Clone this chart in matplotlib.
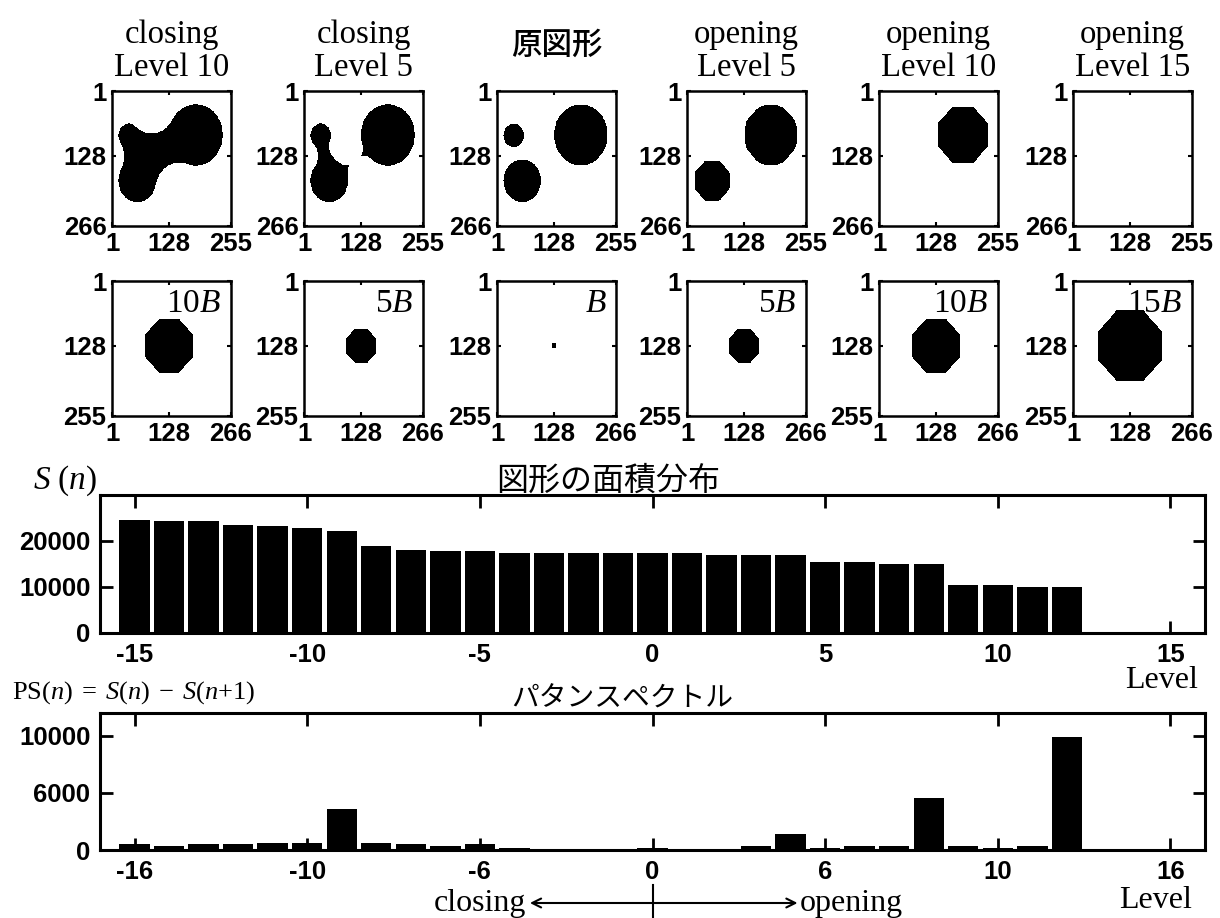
import numpy as np
import matplotlib
matplotlib.use('Agg')
import matplotlib.pyplot as plt
from matplotlib.transforms import blended_transform_factory

plt.rcParams['font.family'] = ['Liberation Sans', 'Noto Sans CJK JP']
plt.rcParams['mathtext.fontset'] = 'custom'
plt.rcParams['mathtext.rm'] = 'Liberation Serif'
plt.rcParams['mathtext.it'] = 'Liberation Serif:italic'

# --- binary test figure: three disks on a 266 x 266 grid ---
N = 266
disk_x = [38, 57, 188]
disk_y = [88, 177, 87]
disk_r = [23, 42, 60]

# size (pixels) of the structuring element nB
se_radius = {1: 5, 5: 33, 10: 53, 15: 70}

top_ops = ['closing', 'closing', None, 'opening', 'opening', 'opening']
top_levels = [10, 5, 0, 5, 10, 15]
top_titles = ['closing\nLevel 10', 'closing\nLevel 5', '原図形',
              'opening\nLevel 5', 'opening\nLevel 10', 'opening\nLevel 15']
se_levels = [10, 5, 1, 5, 10, 15]
se_labels = ['10$B$', '5$B$', '$B$', '5$B$', '10$B$', '15$B$']

img_ticks = [1, 128, 266]
top_xlabels = ['1', '128', '255']
top_ylabels = ['1', '128', '266']
se_xlabels = ['1', '128', '266']
se_ylabels = ['1', '128', '255']

# --- area distribution S(n) and pattern spectrum PS(n) ---
levels = np.arange(-15, 16)
area = [24550, 24320, 24320, 23440, 23220, 22780, 22120, 18830, 17950, 17730,
        17730, 17290, 17290, 17290, 17290, 17290, 17290, 16850, 16850, 16850,
        15530, 15530, 15090, 15090, 10480, 10480, 10040, 10040, 0, 0, 0]
spectrum = [550, 380, 550, 550, 640, 640, 3570, 640, 550, 380,
            550, 200, 0, 0, 0, 150, 80, 80, 350, 1390,
            150, 350, 350, 4580, 350, 150, 350, 9910, 0, 0, 0]

level_ticks = [-15, -10, -5, 0, 5, 10, 15]
area_xlabels = ['-15', '-10', '-5', '0', '5', '10', '15']
ps_xlabels = ['-16', '-10', '-6', '0', '6', '10', '16']
area_yticks = [0, 10000, 20000]
area_ylabels = ['0', '10000', '20000']
ps_yticks = [0, 5000, 10000]
ps_ylabels = ['0', '6000', '10000']

W, H = 1220, 918
fig = plt.figure(figsize=(W / 100, H / 100), dpi=100)


def px_box(left, top, w, h):
    return [left / W, 1 - (top + h) / H, w / W, h / H]


PAD = 130
yy, xx = np.mgrid[1 - PAD:N + 1 + PAD, 1 - PAD:N + 1 + PAD]


def grow(mask, r):
    # octagon of inradius r = square (+) diamond
    a = int(round(r * (np.sqrt(2) - 1)))
    b = int(round(r * (2 - np.sqrt(2))))
    out = mask.copy()
    for axis in (0, 1):
        base = out.copy()
        for k in range(1, a + 1):
            out |= np.roll(base, k, axis) | np.roll(base, -k, axis)
    for _ in range(b):
        out = (out | np.roll(out, 1, 0) | np.roll(out, -1, 0)
               | np.roll(out, 1, 1) | np.roll(out, -1, 1))
    return out


def shrink(mask, r):
    return ~grow(~mask, r)


def crop(mask):
    return mask[PAD:PAD + N, PAD:PAD + N].astype(float)


def disks(extra=0):
    m = np.zeros(xx.shape, dtype=bool)
    for cx, cy, r in zip(disk_x, disk_y, disk_r):
        m |= (xx - cx) ** 2 + (yy - cy) ** 2 <= (r + extra) ** 2
    return m


def closing(R):
    # round element: grow every disk by R, then keep the pixels lying
    # at least R away from the edge of the grown shape
    grown = disks(R)
    inner = (grown & np.roll(grown, 1, 0) & np.roll(grown, -1, 0)
             & np.roll(grown, 1, 1) & np.roll(grown, -1, 1))
    edge = grown & ~inner
    ex = xx[edge].astype(np.float32)
    ey = yy[edge].astype(np.float32)
    gy, gx = np.mgrid[1:N + 1, 1:N + 1]
    px = gx.ravel().astype(np.float32)
    py = gy.ravel().astype(np.float32)
    d2 = np.empty(px.size, dtype=np.float32)
    step = 3000
    for s in range(0, px.size, step):
        dx = px[s:s + step, None] - ex[None, :]
        dy = py[s:s + step, None] - ey[None, :]
        d2[s:s + step] = (dx * dx + dy * dy).min(axis=1)
    keep = (crop(grown) > 0) & (d2.reshape(N, N) >= (R - 1) ** 2)
    return keep.astype(float)


original = disks()

top_imgs = []
for op, lv in zip(top_ops, top_levels):
    if op is None:
        top_imgs.append(crop(original))
    elif op == 'closing':
        top_imgs.append(closing(se_radius[lv]))
    else:
        r = se_radius[lv]
        top_imgs.append(crop(grow(shrink(original, r), r)))

centre = (xx == 128) & (yy == 128)
se_imgs = [crop(grow(centre, se_radius[lv])) for lv in se_levels]

col_left = [112, 304, 497, 687, 879, 1073]
IMG_W, IMG_H = 119, 135


def image_axes(left, top, img, xlabels, ylabels):
    ax = fig.add_axes(px_box(left, top, IMG_W, IMG_H))
    ax.imshow(img, cmap='gray_r', vmin=0, vmax=1, interpolation='nearest',
              aspect='auto', extent=(0.5, N + 0.5, N + 0.5, 0.5))
    ax.set_xticks(img_ticks)
    ax.set_xticklabels(xlabels, fontweight='bold', fontsize=18.5)
    ax.set_yticks(img_ticks)
    ax.set_yticklabels(ylabels, fontweight='bold', fontsize=18.5)
    ax.tick_params(direction='in', length=3, width=1.5, top=True, right=True, pad=4)
    for sp in ax.spines.values():
        sp.set_linewidth(1.8)
    return ax


for i in range(6):
    ax = image_axes(col_left[i], 91, top_imgs[i], top_xlabels, top_ylabels)
    if top_ops[i] is None:
        ax.text(0.5, (226 - 45) / IMG_H, top_titles[i], transform=ax.transAxes,
                ha='center', va='center', fontsize=22, fontweight='medium',
                family='Noto Sans CJK JP')
    else:
        ax.text(0.5, (226 - 76) / IMG_H, top_titles[i], transform=ax.transAxes,
                ha='center', va='baseline', fontsize=23.5, family='Liberation Serif',
                linespacing=1.12)

for i in range(6):
    ax = image_axes(col_left[i], 281, se_imgs[i], se_xlabels, se_ylabels)
    ax.text(0.92, 0.77, se_labels[i], transform=ax.transAxes, ha='right',
            va='baseline', fontsize=24, family='Liberation Serif')


def bar_axes(top, h, values, ymax, yticks, ylabels, xlabels):
    ax = fig.add_axes(px_box(100, top, 1105, h))
    ax.bar(levels, values, width=0.88, color='black')
    ax.set_xlim(-16, 16)
    ax.set_ylim(0, ymax)
    ax.set_xticks(level_ticks)
    ax.set_xticklabels(xlabels, fontweight='bold', fontsize=18.5)
    ax.set_yticks(yticks)
    ax.set_yticklabels(ylabels, fontweight='bold', fontsize=18.5)
    ax.tick_params(direction='in', length=9, width=2, top=True, right=True, pad=7)
    for sp in ax.spines.values():
        sp.set_linewidth(2.2)
    return ax


ax_s = bar_axes(495, 138, area, 30000, area_yticks, area_ylabels, area_xlabels)
ax_ps = bar_axes(713, 137, spectrum, 12000, ps_yticks, ps_ylabels, ps_xlabels)

fig.text(33 / W, 1 - 481 / H, r'$S\ (n)$', ha='left', va='center', fontsize=24)
fig.text(608 / W, 1 - 481 / H, '図形の面積分布', ha='center', va='center',
         fontsize=23, family='Noto Sans CJK JP')
fig.text(1198 / W, 1 - 681 / H, 'Level', ha='right', va='center', fontsize=23,
         family='Liberation Serif')

fig.text(12 / W, 1 - 693 / H, r'$\mathrm{PS}(n)\;=\;S(n)\;-\;S(n{+}1)$', ha='left',
         va='center', fontsize=19)
fig.text(622 / W, 1 - 699 / H, 'パタンスペクトル', ha='center', va='center',
         fontsize=20, family='Noto Sans CJK JP')
fig.text(1192 / W, 1 - 901 / H, 'Level', ha='right', va='center', fontsize=23,
         family='Liberation Serif')

# closing <-- | --> opening under the spectrum
tr = blended_transform_factory(ax_ps.transData, fig.transFigure)
ya = 1 - 903 / H
arrow = dict(arrowstyle='->', lw=1.5, color='black', shrinkA=0, shrinkB=0,
             mutation_scale=16)
ax_ps.annotate('', xy=(-3.55, ya), xytext=(0, ya), xycoords=tr, textcoords=tr,
               arrowprops=arrow, annotation_clip=False)
ax_ps.annotate('', xy=(4.2, ya), xytext=(0, ya), xycoords=tr, textcoords=tr,
               arrowprops=arrow, annotation_clip=False)
ax_ps.plot([0, 0], [1 - 885 / H, 0], transform=tr, color='black', lw=1.5,
           clip_on=False)
fig.text((652 - 3.65 * 34.53) / W, ya, 'closing', ha='right', va='center',
         fontsize=23, family='Liberation Serif')
fig.text(800 / W, ya, 'opening', ha='left', va='center', fontsize=23,
         family='Liberation Serif')

fig.savefig('out.png', dpi=100)
